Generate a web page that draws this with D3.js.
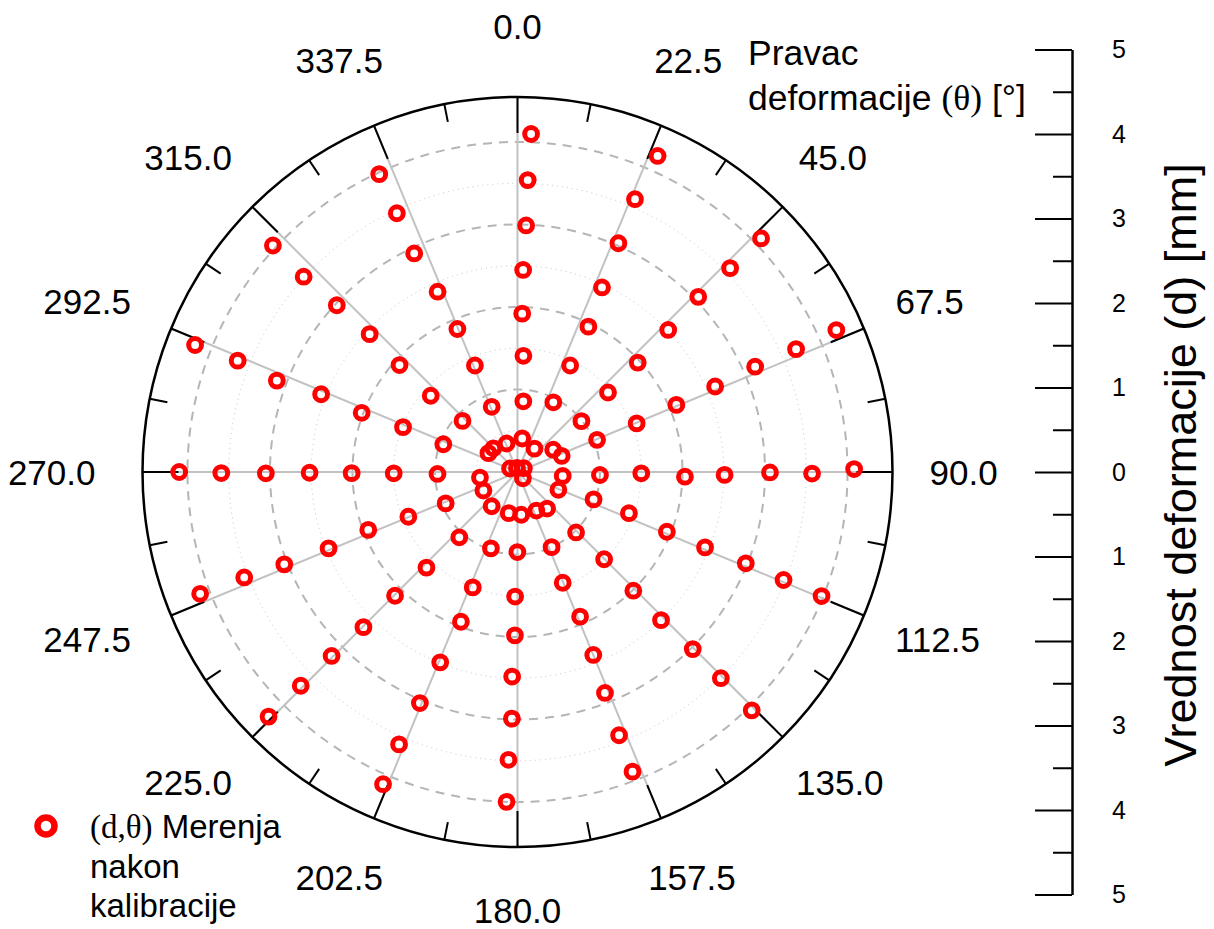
<!DOCTYPE html>
<html>
<head>
<meta charset="utf-8">
<script src="https://cdn.jsdelivr.net/npm/d3@7"></script>
<style>
    body { margin: 0; background: #fff; }
    text { font-family: "Liberation Sans", Arial, sans-serif; fill: #000; }
</style>
</head>
<body>
<div id="chart"></div>
<script>
// spoke directions (deg) and their labels
const spokeAngles = [0, 22.5, 45, 67.5, 90, 112.5, 135, 157.5, 180, 202.5, 225, 247.5, 270, 292.5, 315, 337.5];
const spokeLabels = ["0.0", "22.5", "45.0", "67.5", "90.0", "112.5", "135.0", "157.5",
    "180.0", "202.5", "225.0", "247.5", "270.0", "292.5", "315.0", "337.5"];

// radial grid (mm)
const majorRings = [1, 2, 3, 4];
const minorRings = [0.5, 1.5, 2.5, 3.5];

// right scale ticks
const sideTicks = [-5, -4, -3, -2, -1, 0, 1, 2, 3, 4, 5];
const sideMinor = [-4.5, -3.5, -2.5, -1.5, -0.5, 0.5, 1.5, 2.5, 3.5, 4.5];

// measurements: deformation d [mm], one row per spoke (outer -> inner)
const measD = [
    [4.10, 3.54, 2.99, 2.45, 1.92, 1.41, 0.86, 0.41],
    [4.19, 3.60, 3.03, 2.46, 1.96, 1.44, 0.95, 0.35],
    [4.09, 3.57, 3.05, 2.51, 1.97, 1.46, 0.99, 0.51],
    [4.23, 3.69, 3.15, 2.61, 2.09, 1.56, 1.04, 0.57],
    [4.08, 3.57, 3.06, 2.51, 2.03, 1.50, 1.00, 0.55],
    [3.98, 3.48, 2.98, 2.45, 1.95, 1.44, 0.98, 0.54],
    [4.05, 3.51, 3.02, 2.50, 2.01, 1.49, 1.02, 0.57],
    [3.89, 3.42, 2.88, 2.40, 1.91, 1.45, 1.00, 0.52],
    [4.00, 3.49, 2.99, 2.48, 1.98, 1.51, 0.97, 0.52],
    [4.12, 3.60, 3.04, 2.49, 1.94, 1.50, 0.98, 0.51],
    [4.23, 3.69, 3.17, 2.65, 2.11, 1.60, 1.06, 0.52],
    [4.12, 3.55, 3.04, 2.47, 1.94, 1.43, 0.95, 0.47],
    [4.10, 3.59, 3.05, 2.52, 2.01, 1.50, 0.97, 0.46],
    [4.20, 3.65, 3.12, 2.56, 2.02, 1.49, 0.96, 0.42],
    [4.04, 3.51, 2.98, 2.45, 1.93, 1.40, 0.91, 0.41],
    [3.98, 3.46, 2.93, 2.39, 1.88, 1.39, 0.85, 0.37],
    [0.10, 0.05, 0.09, 0.10]
];
// measured direction theta [deg], same layout
const measTheta = [
    [2.3, 2.0, 2.0, 1.6, 1.7, 2.9, 4.7, 8.0],
    [23.9, 23.3, 23.8, 24.6, 26.0, 26.3, 27.2, 36.0],
    [46.2, 46.2, 45.9, 46.7, 47.7, 48.7, 51.5, 58.0],
    [66.0, 66.2, 66.1, 66.6, 67.1, 67.8, 68.0, 70.0],
    [89.5, 90.3, 90.1, 90.8, 91.6, 90.6, 92.1, 95.0],
    [112.2, 112.1, 111.8, 111.9, 111.8, 110.3, 109.8, 113.5],
    [135.5, 135.4, 135.3, 135.9, 135.7, 135.2, 135.9, 141.0],
    [159.0, 158.9, 158.4, 157.5, 156.6, 157.8, 155.6, 154.0],
    [181.9, 181.8, 181.3, 181.5, 180.9, 181.1, 180.1, 175.0],
    [203.3, 203.5, 202.9, 202.1, 200.7, 201.2, 199.2, 192.0],
    [225.5, 225.4, 225.3, 224.8, 224.7, 223.6, 221.7, 217.0],
    [249.0, 248.9, 248.4, 248.0, 248.8, 247.7, 246.4, 241.5],
    [270.0, 269.8, 269.7, 269.8, 269.6, 269.4, 268.6, 261.6],
    [291.5, 291.7, 290.8, 291.6, 290.8, 291.4, 290.5, 303.0],
    [312.8, 312.4, 312.7, 313.0, 312.2, 311.3, 312.9, 314.5],
    [335.1, 335.0, 334.7, 336.1, 337.2, 338.2, 338.4, 339.0],
    [295, 353, 59, 139]
];

let width = 1214,
    height = 929,
    cx = 517.5,
    cy = 472,
    R = 375;

let svg = d3.select("#chart")
    .append("svg")
    .attr("width", width)
    .attr("height", height);

let r = d3.scaleLinear().domain([0, 4.545]).range([0, R]);
let rad = d => d * Math.PI / 180;
let px = (d, t) => cx + r(d) * Math.sin(rad(t));
let py = (d, t) => cy - r(d) * Math.cos(rad(t));

let g = svg.append("g");

// dotted minor rings
g.selectAll(".minor-ring")
    .data(minorRings)
    .enter().append("circle")
    .attr("cx", cx).attr("cy", cy)
    .attr("r", d => r(d))
    .attr("fill", "none")
    .attr("stroke", "#c4c4c4")
    .attr("stroke-width", 1)
    .attr("stroke-dasharray", "1,4");

// dashed major rings
g.selectAll(".major-ring")
    .data(majorRings)
    .enter().append("circle")
    .attr("cx", cx).attr("cy", cy)
    .attr("r", d => r(d))
    .attr("fill", "none")
    .attr("stroke", "#b5b5b5")
    .attr("stroke-width", 2)
    .attr("stroke-dasharray", "9,7");

// spokes
g.selectAll(".spoke")
    .data(spokeAngles)
    .enter().append("line")
    .attr("x1", cx).attr("y1", cy)
    .attr("x2", d => cx + R * Math.sin(rad(d)))
    .attr("y2", d => cy - R * Math.cos(rad(d)))
    .attr("stroke", "#c2c2c2")
    .attr("stroke-width", 2);

// outer circle
g.append("circle")
    .attr("cx", cx).attr("cy", cy).attr("r", R)
    .attr("fill", "none")
    .attr("stroke", "#000")
    .attr("stroke-width", 2.5);

// angular ticks
let tickData = [];
spokeAngles.forEach(a => {
    tickData.push({ a: a, len: 36 });
    tickData.push({ a: a + 11.25, len: 18 });
});
g.selectAll(".atick")
    .data(tickData)
    .enter().append("line")
    .attr("x1", d => cx + R * Math.sin(rad(d.a)))
    .attr("y1", d => cy - R * Math.cos(rad(d.a)))
    .attr("x2", d => cx + (R - d.len) * Math.sin(rad(d.a)))
    .attr("y2", d => cy - (R - d.len) * Math.cos(rad(d.a)))
    .attr("stroke", "#000")
    .attr("stroke-width", 2);

// angle labels: placed off the circle, shifted by half of their own width sideways
let alabels = g.selectAll(".alabel")
    .data(spokeAngles)
    .enter().append("text")
    .attr("text-anchor", "middle")
    .attr("dy", "0.36em")
    .style("font-size", "35px")
    .text((d, i) => spokeLabels[i]);

alabels.each(function (d) {
    let s = Math.sin(rad(d)),
        c = Math.cos(rad(d)),
        w = this.getComputedTextLength();
    d3.select(this)
        .attr("x", cx + s * (412 + w / 2) + 10 * Math.min(s, 0))
        .attr("y", cy - 442 * c - 3.5 * Math.abs(c));
});

// points
let pts = [];
measD.forEach((row, i) => {
    row.forEach((d, j) => pts.push({ d: d, t: measTheta[i][j] }));
});
g.selectAll(".pt")
    .data(pts)
    .enter().append("circle")
    .attr("cx", d => px(d.d, d.t))
    .attr("cy", d => py(d.d, d.t))
    .attr("r", 6.4)
    .attr("fill", "none")
    .attr("stroke", "#ff0000")
    .attr("stroke-width", 5);

// right side scale
let ys = d3.scaleLinear().domain([-5, 5]).range([894.5, 49.5]);
let axisX = 1072;

svg.append("g")
    .attr("transform", `translate(${axisX},0)`)
    .call(d3.axisRight(ys).tickValues(sideMinor).tickSizeInner(-19).tickSizeOuter(0).tickFormat(""))
    .call(a => a.select(".domain").remove())
    .selectAll("line").attr("stroke", "#000").attr("stroke-width", 2);

let yAxis = svg.append("g")
    .attr("transform", `translate(${axisX},0)`)
    .call(d3.axisRight(ys).tickValues(sideTicks).tickSizeInner(-37).tickSizeOuter(0)
        .tickPadding(40).tickFormat(d => Math.abs(d)));
yAxis.attr("font-size", 25).attr("font-family", "'Liberation Sans', Arial, sans-serif");
yAxis.select(".domain").attr("stroke", "#000").attr("stroke-width", 2.5);
yAxis.selectAll("line").attr("stroke", "#000").attr("stroke-width", 2);
yAxis.selectAll(".tick text")
    .attr("font-size", 25)
    .style("font-size", "25px")
    .attr("fill", "#000");

svg.append("text")
    .attr("transform", "translate(1196,465) rotate(-90)")
    .attr("text-anchor", "middle")
    .style("font-size", "45px")
    .text("Vrednost deformacije (d) [mm]");

// theta axis title
let tt = svg.append("text")
    .attr("x", 748)
    .attr("y", 65)
    .style("font-size", "35.5px");
tt.append("tspan").text("Pravac");
let t2 = tt.append("tspan").attr("x", 748).attr("dy", 45);
t2.append("tspan").text("deformacije ");
t2.append("tspan").style("font-family", "'Liberation Serif', 'DejaVu Serif', serif").text("(θ)");
t2.append("tspan").text(" [°]");

// legend
svg.append("circle")
    .attr("cx", 46).attr("cy", 826).attr("r", 8.5)
    .attr("fill", "none")
    .attr("stroke", "#ff0000")
    .attr("stroke-width", 6.5);

let lg = svg.append("text")
    .attr("x", 90)
    .attr("y", 838)
    .style("font-size", "33px");
let l1 = lg.append("tspan");
l1.append("tspan").style("font-family", "'Liberation Serif', 'DejaVu Serif', serif").text("(d,θ)");
l1.append("tspan").text(" Merenja");
lg.append("tspan").attr("x", 90).attr("dy", 40).text("nakon");
lg.append("tspan").attr("x", 90).attr("dy", 39).text("kalibracije");
</script>
</body>
</html>
